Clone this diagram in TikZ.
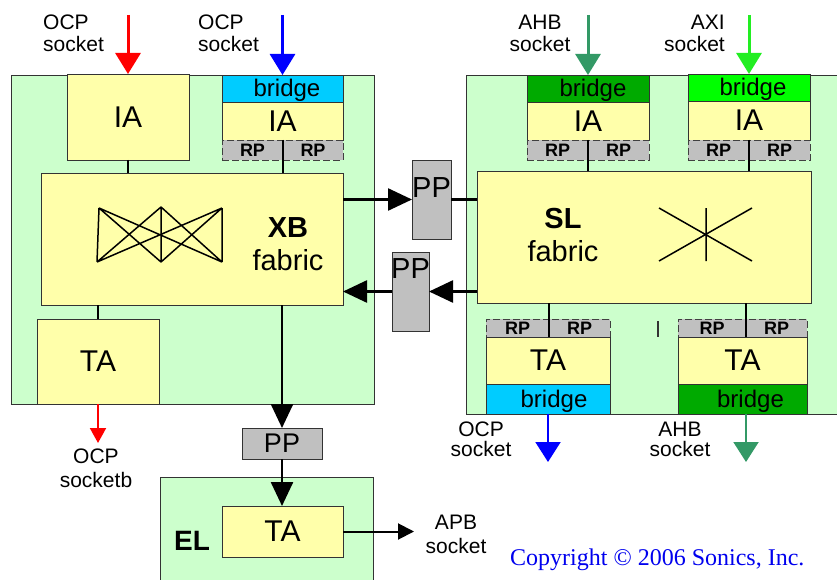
\documentclass[tikz,border=0pt]{standalone}
\usepackage{fontspec}
\setmainfont{Liberation Sans}
\newfontfamily\serifcr{Liberation Serif}
\usetikzlibrary{arrows.meta}
\definecolor{bggreen}{HTML}{CCFFCC}
\definecolor{boxyellow}{HTML}{FFFFAA}
\definecolor{bcyan}{HTML}{00CCFF}
\definecolor{bdark}{HTML}{00AA00}
\definecolor{bbright}{HTML}{00FF00}
\definecolor{rpgray}{HTML}{C0C0C0}
\definecolor{ahbgreen}{HTML}{339966}
\definecolor{axigreen}{HTML}{22EE22}
\definecolor{edge}{HTML}{333333}
\definecolor{crblue}{HTML}{0000EE}
\begin{document}
\begin{tikzpicture}[x=1pt,y=-1pt,
 region/.style={draw=edge, line width=0.8pt, fill=bggreen, inner sep=0pt, outer sep=0pt},
 blk/.style={draw=edge, line width=0.8pt, fill=boxyellow, inner sep=0pt, outer sep=0pt, font=\fontsize{30}{30}\selectfont},
 brg/.style={draw=edge, line width=0.8pt, inner sep=0pt, outer sep=0pt, text height=18pt, text depth=2pt, font=\fontsize{24}{24}\selectfont},
 rphalf/.style={fill=rpgray, draw=black!75, dash pattern=on 7pt off 3pt, line width=0.8pt, inner sep=0pt, outer sep=0pt, font=\bfseries\fontsize{18}{18}\selectfont},
 ppbox/.style={fill=rpgray, draw=edge, line width=0.8pt, inner sep=0pt, outer sep=0pt},
 pptext/.style={inner sep=0pt, font=\fontsize{29}{29}\selectfont},
 lbl/.style={inner sep=0pt, font=\fontsize{21}{22}\selectfont},
 lblb/.style={inner sep=0pt, font=\fontsize{21}{20}\selectfont},
 lblc/.style={inner sep=0pt, font=\fontsize{21}{24}\selectfont},
 fab/.style={inner sep=0pt, align=center, anchor=north, font=\fontsize{29}{33}\selectfont},
 conn/.style={line width=1.5pt, draw=black},
 icon/.style={line width=1.5pt, draw=black},
 blkarrow/.style={line width=2.5pt, -{Triangle[length=24pt,width=22pt]}},
 inarrow/.style={line width=3pt, -{Triangle[length=21pt,width=25pt]}},
 outarrow/.style={line width=2pt, -{Triangle[length=20pt,width=25pt]}},
 smallarrow/.style={line width=2pt, -{Triangle[length=16pt,width=16pt]}}
]
\useasboundingbox (0,0) rectangle (837,580);

% containers
\node[region, minimum width=363pt, minimum height=329pt] (lreg) at (192.5,239.5) {};
\node[region, minimum width=380pt, minimum height=339pt] (rreg) at (656,244.5) {};
\node[region, minimum width=213pt, minimum height=110pt] (elreg) at (266.5,532) {};

% left top
\node[blk, minimum width=122pt, minimum height=86pt] (ia1) at (128,117) {IA};
\node[brg, fill=bcyan, minimum width=121pt, minimum height=27pt] (br1) at (282.5,88.5) {\hspace*{9pt}bridge};
\node[blk, minimum width=121pt, minimum height=38pt] (ia2) at (282.5,121) {IA};
\node[rphalf, minimum width=61pt, minimum height=20pt] (rp1a) at (252.5,150) {RP};
\node[rphalf, minimum width=60pt, minimum height=20pt] (rp1b) at (313,150) {RP};

% XB fabric
\node[blk, minimum width=302pt, minimum height=132pt] (xb) at (192,239) {};
\node[fab] (xbl) at (288,217) {\textbf{XB}\\fabric};
\draw[icon] (99,208) -- (97,262) (161,207) -- (161,262) (222,208) -- (222,262)
  (99,208) -- (161,262) (99,208) -- (222,262) (97,262) -- (161,207)
  (97,262) -- (222,208) (161,207) -- (222,262) (161,262) -- (222,208);

% left TA
\node[blk, minimum width=122pt, minimum height=85pt] (taL) at (98,361.5) {TA};

% PP between fabrics
\node[ppbox, minimum width=39pt, minimum height=79pt] (ppA) at (431.5,199.5) {};
\node[pptext, anchor=north] (ppAt) at (431.5,177) {PP};
\node[ppbox, minimum width=37pt, minimum height=79pt] (ppB) at (410.5,291.5) {};
\node[pptext, anchor=north] (ppBt) at (410.5,258) {PP};

% SL fabric
\node[blk, minimum width=334pt, minimum height=132pt] (sl) at (644,237) {};
\node[fab] (sll) at (563,208) {\textbf{SL}\\fabric};
\draw[icon] (659,208) -- (752,261) (659,261) -- (752,208) (706,208) -- (706,261);

% AHB initiator
\node[brg, fill=bdark, minimum width=122pt, minimum height=27pt] (br3) at (588,88.5) {\hspace*{10pt}bridge};
\node[blk, minimum width=122pt, minimum height=38pt] (ia3) at (588,121) {IA};
\node[rphalf, minimum width=61pt, minimum height=20pt] (rp3a) at (557.5,150) {RP};
\node[rphalf, minimum width=61pt, minimum height=20pt] (rp3b) at (618.5,150) {RP};

% AXI initiator
\node[brg, fill=bbright, minimum width=122pt, minimum height=27pt] (br4) at (749,87.5) {\hspace*{8pt}bridge};
\node[blk, minimum width=122pt, minimum height=39pt] (ia4) at (749,120.5) {IA};
\node[rphalf, minimum width=61pt, minimum height=20pt] (rp4a) at (718.5,150) {RP};
\node[rphalf, minimum width=61pt, minimum height=20pt] (rp4b) at (779.5,150) {RP};

% bottom-left target (OCP)
\node[rphalf, minimum width=63pt, minimum height=18pt] (rp5a) at (517.5,328) {RP};
\node[rphalf, minimum width=61pt, minimum height=18pt] (rp5b) at (579.5,328) {RP};
\node[blk, minimum width=124pt, minimum height=47pt] (ta5) at (548,360.5) {TA};
\node[brg, fill=bcyan, minimum width=124pt, minimum height=30pt] (br5) at (548,399) {\hspace*{12pt}bridge};

% bottom-right target (AHB)
\node[rphalf, minimum width=68pt, minimum height=18pt] (rp6a) at (712,328) {RP};
\node[rphalf, minimum width=61pt, minimum height=18pt] (rp6b) at (776.5,328) {RP};
\node[blk, minimum width=129pt, minimum height=47pt] (ta6) at (742.5,360.5) {TA};
\node[brg, fill=bdark, minimum width=129pt, minimum height=30pt] (br6) at (742.5,399) {\hspace*{16pt}bridge};

\draw[line width=1.5pt, black!80] (658,321) -- (658,337);

% EL
\node[ppbox, minimum width=80pt, minimum height=31pt, font=\fontsize{27}{27}\selectfont] (ppC) at (282,443.5) {PP};
\node[blk, minimum width=121pt, minimum height=51pt] (taEL) at (282.5,531.5) {TA};
\node[inner sep=0pt, font=\bfseries\fontsize{28}{28}\selectfont] (ell) at (192,541) {EL};

% thin connectors
\draw[conn] (ia1.south) -- (ia1.south |- xb.north);
\draw[conn] (rp1a.north east) -- (rp1a.north east |- xb.north);
\draw[conn] (taL.north |- xb.south) -- (taL.north);
\draw[conn] (rp3a.north east) -- (rp3a.north east |- sl.north);
\draw[conn] (rp4a.north east) -- (rp4a.north east |- sl.north);
\draw[conn] (rp5a.south east |- sl.south) -- (rp5a.south east);
\draw[conn] (rp6a.south east |- sl.south) -- (rp6a.south east);

% black arrows
\draw[blkarrow] (ppA.west -| xb.east) -- (ppA.west);
\draw[line width=2.5pt] (ppA.east) -- (ppA.east -| sl.west);
\draw[blkarrow] (ppB.east -| sl.west) -- (ppB.east);
\draw[blkarrow] (ppB.west) -- (ppB.west -| xb.east);
\draw[blkarrow] (ppC.north |- xb.south) -- (ppC.north);
\draw[blkarrow] (ppC.south) -- (ppC.south |- taEL.north);
\coordinate (apb) at (414,531.5);
\draw[smallarrow] (taEL.east) -- (apb);

% socket arrows in
\coordinate (inA) at (128,15);
\coordinate (inB) at (282.5,15);
\coordinate (inC) at (588,15);
\coordinate (inD) at (749,15);
\draw[inarrow, red] (inA) -- (ia1.north);
\draw[inarrow, blue] (inB) -- (br1.north);
\draw[inarrow, ahbgreen] (inC) -- (br3.north);
\draw[inarrow, axigreen] (inD) -- (br4.north);

% socket arrows out
\coordinate (outL) at (98,443);
\coordinate (outB) at (548,462);
\coordinate (outG) at (746,462);
\draw[line width=2pt, red, -{Triangle[length=15pt,width=16pt]}] (taL.south) -- (outL);
\draw[outarrow, blue] (br5.south) -- (outB);
\draw[outarrow, ahbgreen] (br6.south -| outG) -- (outG);

% labels
\node[lbl, align=left, anchor=north west] (l1) at (43,15) {OCP\\socket};
\node[lbl, align=left, anchor=north west] (l2) at (198,15) {OCP\\socket};
\node[lbl, align=center, anchor=north] (l3) at (540,15) {AHB\\socket};
\node[lbl, align=right, anchor=north east] (l4) at (725,15) {AXI\\socket};
\node[lblb, align=center, anchor=north] (l5) at (481,422) {OCP\\socket};
\node[lblb, align=center, anchor=north] (l6) at (680,422) {AHB\\socket};
\node[lblc, align=center, anchor=north] (l7) at (96,449) {OCP\\socketb};
\node[lblc, align=center, anchor=north] (l8) at (456,515) {APB\\socket};

\node[inner sep=0pt, anchor=base west, text=crblue, font=\serifcr\fontsize{24}{24}\selectfont] (copy) at (510,565) {Copyright © 2006 Sonics, Inc.};
\end{tikzpicture}
\end{document}
